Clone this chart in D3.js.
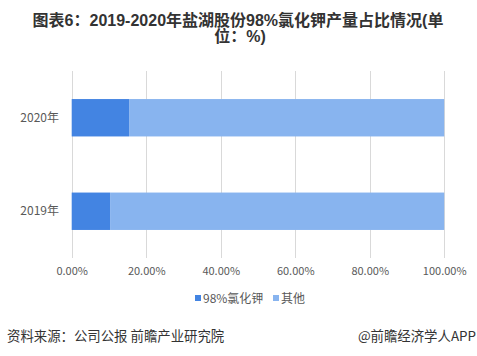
<!DOCTYPE html>
<html><head><meta charset="utf-8">
<script src="https://cdn.jsdelivr.net/npm/d3@7"></script>
<style>body{margin:0;background:#fff;}svg{display:block;font-family:"Liberation Sans","Noto Sans CJK SC",sans-serif;}</style>
</head><body>
<svg id="c" width="477" height="356"></svg>
<script>
const categories = ["2020年", "2019年"];
const seriesNames = ["98%氯化钾", "其他"];
const kcl98 = [15.4, 10.3];
const others = [84.6, 89.7];
const xTicks = [0, 20, 40, 60, 80, 100];
const colors = ["#4384E2", "#88B4EF"];

const svg = d3.select("#c");
const x = d3.scaleLinear().domain([0, 100]).range([71.7, 444.2]);
const y = d3.scaleBand().domain(categories).range([71, 258]).paddingInner(0.6).paddingOuter(0.3);

// title
const title = svg.append("text").attr("text-anchor", "middle").attr("fill", "#333")
  .attr("font-size", 16).attr("font-weight", "bold");
title.append("tspan").attr("x", 238).attr("y", 26).text("图表6：2019-2020年盐湖股份98%氯化钾产量占比情况(单");
title.append("tspan").attr("x", 240).attr("y", 42).text("位：%)");

// gridlines
svg.append("g").selectAll("line").data(xTicks).join("line")
  .attr("x1", d => Math.round(x(d)) + 0.5).attr("x2", d => Math.round(x(d)) + 0.5)
  .attr("y1", 71).attr("y2", 258).attr("stroke", "#d9d9d9").attr("stroke-width", 1);

// bars
const stackData = categories.map((c, i) => ({ cat: c, v: [kcl98[i], others[i]] }));
stackData.forEach(d => {
  let acc = 0;
  d.v.forEach((v, j) => {
    svg.append("rect").attr("x", x(acc)).attr("width", x(acc + v) - x(acc))
      .attr("y", y(d.cat)).attr("height", y.bandwidth()).attr("fill", colors[j]);
    acc += v;
  });
});

// y axis labels
const yAxis = d3.axisLeft(y).tickSize(0).tickPadding(0);
const gy = svg.append("g").attr("transform", "translate(59,0)").call(yAxis);
gy.select(".domain").remove();
gy.selectAll("text").attr("font-size", 12).attr("fill", "#595959")
  .attr("font-family", "'Noto Sans CJK SC','Liberation Sans',sans-serif");

// x axis labels
const xAxis = d3.axisBottom(x).tickValues(xTicks).tickSize(0).tickPadding(0)
  .tickFormat(d => d.toFixed(2) + "%");
const gx = svg.append("g").attr("transform", "translate(0,267)").call(xAxis);
gx.select(".domain").remove();
gx.selectAll("text").attr("font-size", 11).attr("fill", "#595959")
  .attr("font-family", "'Noto Sans CJK SC','Liberation Sans',sans-serif");

// legend
const legX = [195, 273];
const lg = svg.append("g");
seriesNames.forEach((n, i) => {
  lg.append("rect").attr("x", legX[i]).attr("y", 295).attr("width", 6).attr("height", 6).attr("fill", colors[i]);
  lg.append("text").attr("x", legX[i] + 8).attr("y", 303).attr("font-size", 12).attr("fill", "#595959")
    .attr("font-family", "'Noto Sans CJK SC','Liberation Sans',sans-serif").text(n);
});

// source
svg.append("text").attr("x", 7).attr("y", 341).attr("font-size", 13.4).attr("fill", "#333")
  .attr("font-family", "'Noto Sans CJK SC',sans-serif").text("资料来源：公司公报 前瞻产业研究院");
svg.append("text").attr("x", 476).attr("y", 341).attr("text-anchor", "end").attr("font-size", 13.4).attr("fill", "#333")
  .attr("font-family", "'Noto Sans CJK SC',sans-serif").text("@前瞻经济学人APP");
</script>
</body></html>
